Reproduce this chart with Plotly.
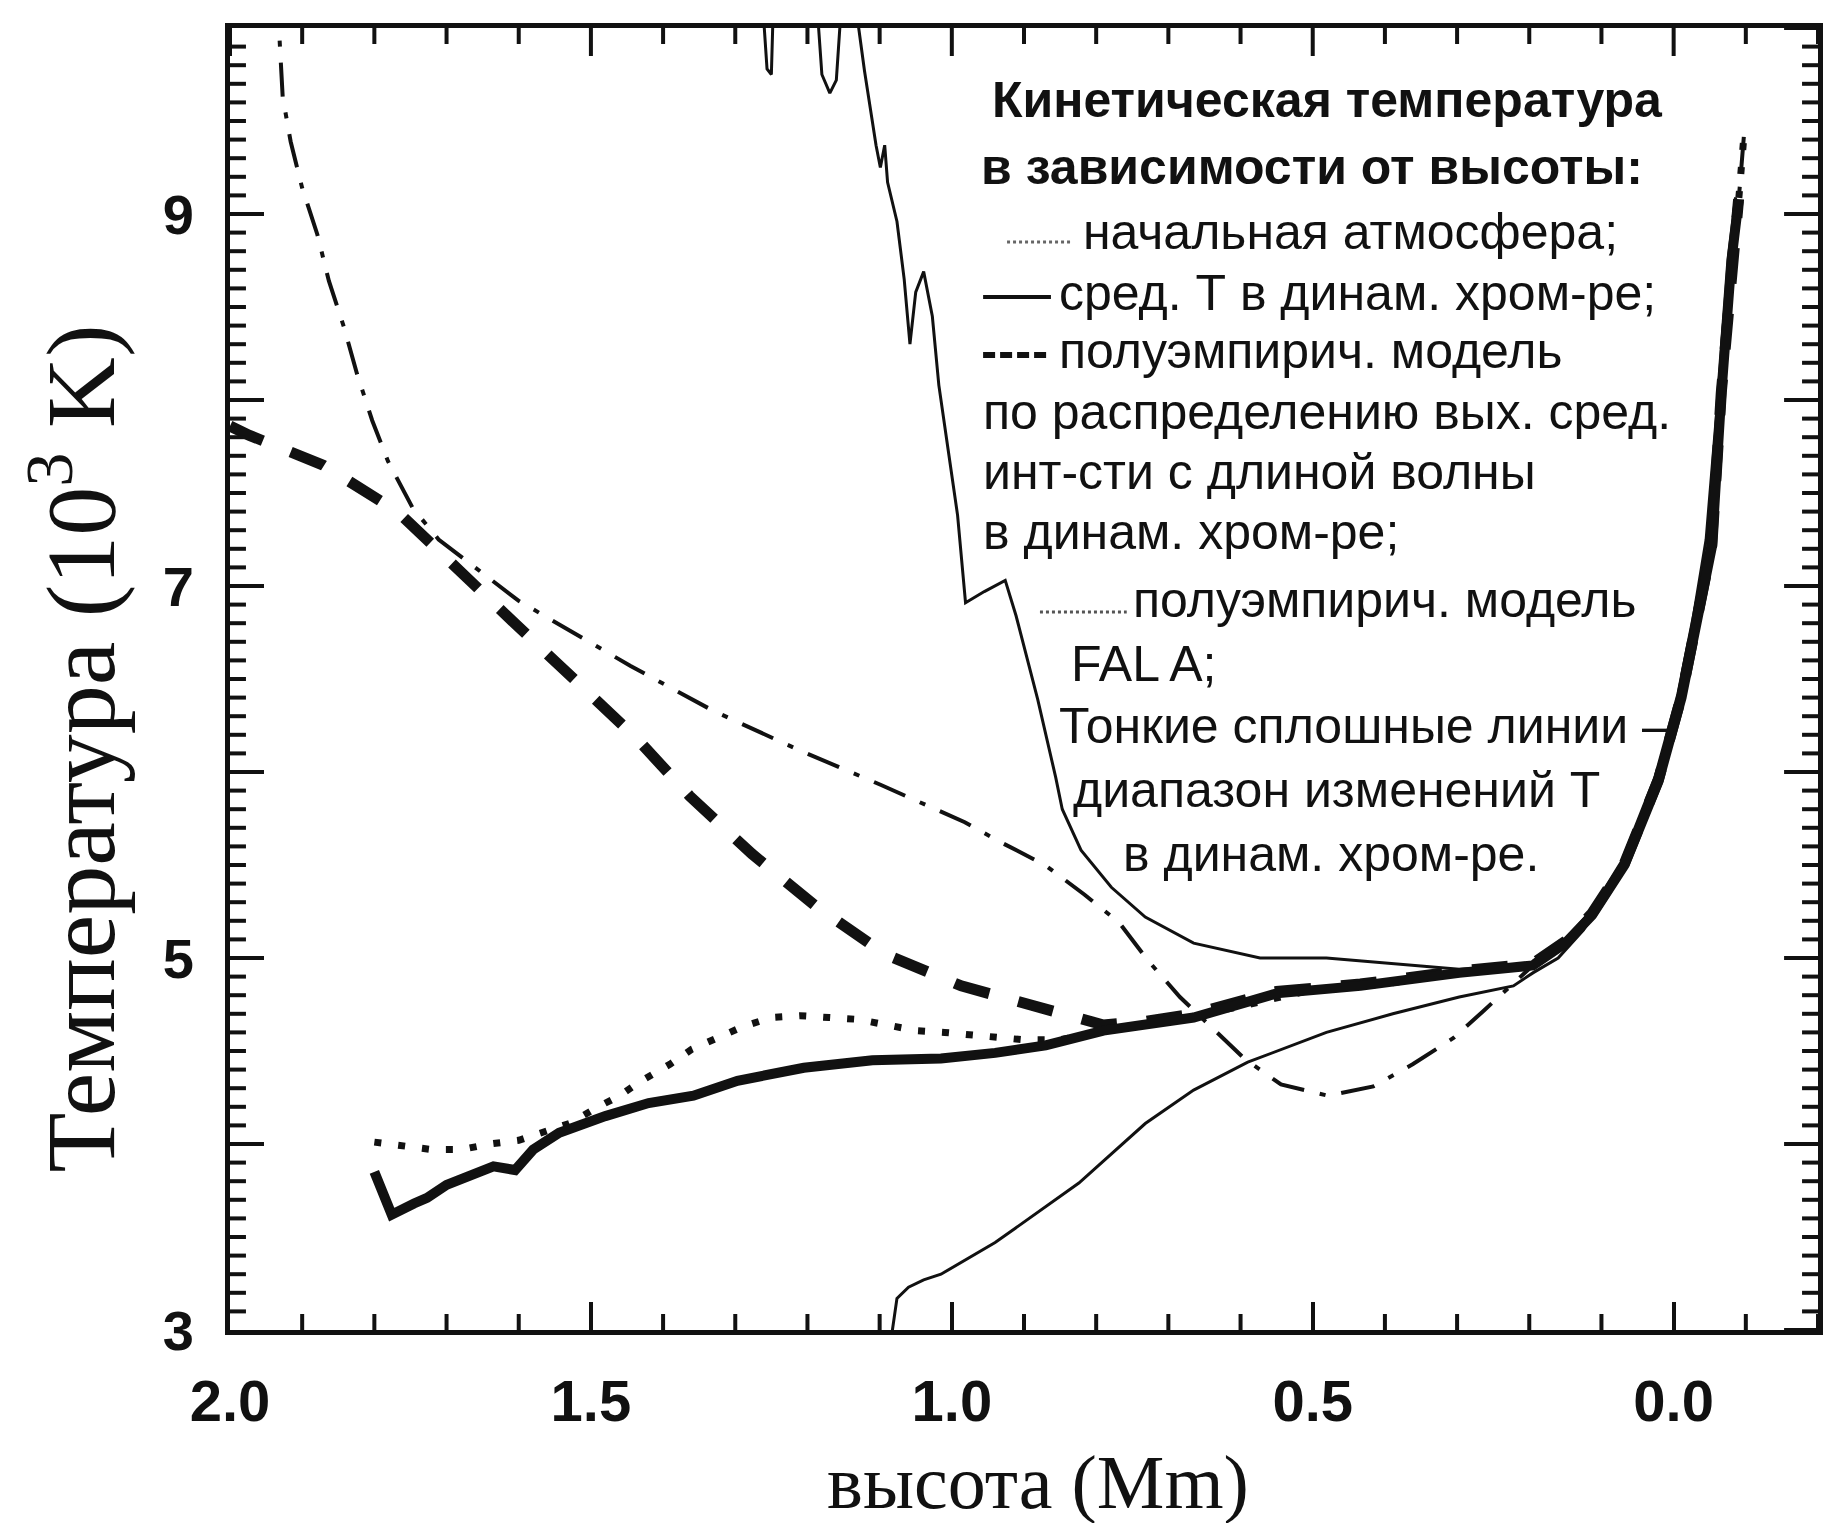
import numpy as np
import plotly.graph_objects as go

# ---------------- data ----------------
# mean T in dynamic chromosphere (thick solid)
mean_x = [1.80, 1.776, 1.745, 1.727, 1.70, 1.666, 1.635, 1.605, 1.58, 1.544, 1.48, 1.42,
          1.358, 1.297, 1.205, 1.11, 1.015, 0.94, 0.87, 0.79, 0.73, 0.665, 0.55, 0.434,
          0.297, 0.222, 0.195, 0.15, 0.113, 0.068, 0.021, -0.011, -0.034, -0.053, -0.066,
          -0.08, -0.09]
mean_y = [3.85, 3.62, 3.68, 3.71, 3.78, 3.84, 3.88, 3.86, 3.97, 4.06, 4.15, 4.22,
          4.26, 4.34, 4.41, 4.45, 4.46, 4.49, 4.53, 4.61, 4.64, 4.68, 4.81, 4.85,
          4.92, 4.95, 4.96, 5.08, 5.23, 5.50, 5.95, 6.40, 6.85, 7.21, 8.03,
          8.75, 9.07]

# initial atmosphere (dotted)
init_x = [1.80, 1.761, 1.72, 1.68, 1.64, 1.60, 1.57, 1.53, 1.49, 1.46, 1.43, 1.39, 1.36,
          1.32, 1.29, 1.25, 1.21, 1.17, 1.13, 1.09, 1.05, 1.01, 0.95, 0.90, 0.85, 0.80,
          0.70, 0.60, 0.50, 0.40, 0.30, 0.20, 0.15, 0.113, 0.068, 0.021, -0.011, -0.034,
          -0.053, -0.066, -0.08, -0.09, -0.098]
init_y = [4.01, 3.99, 3.97, 3.97, 4.00, 4.02, 4.06, 4.11, 4.20, 4.26, 4.34, 4.43, 4.51,
          4.58, 4.63, 4.68, 4.69, 4.68, 4.67, 4.64, 4.61, 4.60, 4.58, 4.56, 4.56, 4.60,
          4.66, 4.74, 4.83, 4.86, 4.92, 4.96, 5.08, 5.23, 5.50, 5.95, 6.40, 6.85,
          7.21, 8.03, 8.75, 9.07, 9.45]

# semi-empirical model from mean intensity (thick dashed)
semi_x = [2.0, 1.973, 1.871, 1.768, 1.603, 1.439, 1.363, 1.277, 1.189, 1.092, 0.987,
          0.877, 0.79, 0.73, 0.665, 0.55, 0.434, 0.297, 0.222, 0.195, 0.15, 0.113, 0.068,
          0.021, -0.011, -0.034, -0.053, -0.066, -0.08, -0.09]
semi_y = [7.86, 7.81, 7.65, 7.40, 6.79, 6.19, 5.87, 5.56, 5.28, 5.02, 4.85,
          4.73, 4.64, 4.66, 4.70, 4.82, 4.86, 4.93, 4.96, 4.97, 5.09, 5.24, 5.51,
          5.96, 6.41, 6.86, 7.22, 8.04, 8.76, 9.08]

# FAL A (dash-dot)
fal_x = [1.935, 1.927, 1.916, 1.90, 1.879, 1.863, 1.842, 1.824, 1.803, 1.781, 1.747,
         1.711, 1.60, 1.445, 1.331, 1.213, 1.098, 0.982, 0.931, 0.871, 0.816, 0.768,
         0.729, 0.684, 0.595, 0.544, 0.479, 0.416, 0.361, 0.305, 0.265, 0.221, 0.195,
         0.15, 0.113, 0.068, 0.021, -0.011, -0.034, -0.053, -0.066, -0.08, -0.09, -0.098]
fal_y = [10.2, 9.63, 9.39, 9.14, 8.89, 8.64, 8.39, 8.14, 7.89, 7.67, 7.42,
         7.25, 6.92, 6.57, 6.33, 6.12, 5.93, 5.73, 5.62, 5.50, 5.34, 5.19,
         4.99, 4.79, 4.46, 4.32, 4.26, 4.31, 4.43, 4.57, 4.71, 4.87, 4.96,
         5.08, 5.23, 5.50, 5.95, 6.40, 6.85, 7.21, 8.03, 8.75, 9.07, 9.45]

# range of T variation: upper thin line
up_x = [1.265, 1.256, 1.250, 1.246, 1.19, 1.18, 1.169, 1.16, 1.15, 1.132, 1.129, 1.121,
        1.111, 1.105, 1.099, 1.093, 1.089, 1.076, 1.066, 1.058, 1.050, 1.039, 1.027,
        1.018, 1.005, 0.992, 0.981, 0.955, 0.926, 0.911, 0.881, 0.856, 0.847, 0.821,
        0.779, 0.732, 0.665, 0.573, 0.481, 0.389, 0.297, 0.195, 0.15, 0.115, 0.072,
        0.026, -0.006, -0.029, -0.048, -0.062, -0.076, -0.086]
up_y = [10.3, 9.78, 9.75, 10.3, 10.3, 9.75, 9.65, 9.72, 10.3, 10.3, 10.0, 9.77,
        9.52, 9.37, 9.25, 9.37, 9.17, 8.96, 8.65, 8.30, 8.58, 8.69, 8.45,
        8.08, 7.73, 7.38, 6.91, 6.97, 7.03, 6.84, 6.39, 5.97, 5.80, 5.58,
        5.38, 5.22, 5.08, 5.00, 5.00, 4.97, 4.94, 4.96, 5.10, 5.25, 5.52,
        5.97, 6.42, 6.87, 7.23, 8.05, 8.77, 9.09]

# range of T variation: lower thin line
low_x = [1.086, 1.076, 1.06, 1.039, 1.015, 0.94, 0.824, 0.732, 0.665, 0.59, 0.481,
         0.389, 0.297, 0.222, 0.195, 0.16, 0.125, 0.08, 0.035, 0.0, -0.025, -0.045,
         -0.06, -0.075, -0.085]
low_y = [2.9, 3.17, 3.23, 3.27, 3.30, 3.47, 3.79, 4.11, 4.29, 4.44, 4.60,
         4.70, 4.79, 4.85, 4.92, 5.00, 5.15, 5.42, 5.85, 6.30, 6.78, 7.25,
         7.95, 8.65, 9.05]

x_range = [2.0, -0.2]
y_range = [3, 10]
x_ticks = [2.0, 1.5, 1.0, 0.5, 0.0]
x_ticklabels = ["2.0", "1.5", "1.0", "0.5", "0.0"]
y_ticks = [3, 4, 5, 6, 7, 8, 9, 10]
y_ticklabels = ["3", "", "5", "", "7", "", "9", ""]
x_minor_step = 0.1
y_minor_step = 0.1
x_title = "высота (Mm)"
y_title = "Температура (10<sup>3</sup> K)"
legend_lines = [
    ("<b>Кинетическая температура</b>", 992, 99.5),
    ("<b>в зависимости от высоты:</b>", 981, 167),
    ("начальная атмосфера;", 1083, 232),
    ("сред. Т в динам. хром-ре;", 1059, 293),
    ("полуэмпирич. модель", 1059, 351),
    ("по распределению вых. сред.", 983, 412),
    ("инт-сти с длиной волны", 983, 472),
    ("в динам. хром-ре;", 983, 532),
    ("полуэмпирич. модель", 1133, 600),
    ("FAL A;", 1071, 664),
    ("Тонкие сплошные линии –", 1059, 726),
    ("диапазон изменений Т", 1073, 790),
    ("в динам. хром-ре.", 1123, 854),
]

# ---------------- figure ----------------
W, H = 1835, 1523
ML, MR, MT, MB = 230, 13, 28, 193
PW, PH = W - ML - MR, H - MT - MB


def px(xp):
    return (xp - ML) / PW


def py(yp):
    return (H - MB - yp) / PH


INK = "#111111"
fig = go.Figure()

fig.add_trace(go.Scatter(x=up_x, y=up_y, mode="lines",
                         line=dict(color=INK, width=3), showlegend=False))
fig.add_trace(go.Scatter(x=low_x, y=low_y, mode="lines",
                         line=dict(color=INK, width=3), showlegend=False))
fig.add_trace(go.Scatter(x=fal_x, y=fal_y, mode="lines",
                         line=dict(color=INK, width=4, dash="34px,16px,6px,16px"),
                         showlegend=False))
fig.add_trace(go.Scatter(x=init_x, y=init_y, mode="lines",
                         line=dict(color=INK, width=7, dash="7px,17px"), showlegend=False))
fig.add_trace(go.Scatter(x=semi_x, y=semi_y, mode="lines",
                         line=dict(color=INK, width=11, dash="36px,30px"), showlegend=False))
fig.add_trace(go.Scatter(x=mean_x, y=mean_y, mode="lines",
                         line=dict(color=INK, width=10), showlegend=False))

xfont = dict(family="Liberation Sans", size=58, color=INK, weight="bold")
yfont = dict(family="Liberation Sans", size=56, color=INK, weight="bold")

fig.update_xaxes(range=x_range, showgrid=False, zeroline=False, showline=True,
                 linecolor=INK, linewidth=5, mirror=True, ticks="inside",
                 tickmode="array", tickvals=x_ticks, ticktext=x_ticklabels,
                 ticklen=28, tickwidth=4, tickcolor=INK, tickfont=xfont,
                 ticklabelstandoff=16)
fig.update_yaxes(range=y_range, showgrid=False, zeroline=False, showline=True,
                 linecolor=INK, linewidth=5, mirror=True, ticks="inside",
                 tickmode="array", tickvals=y_ticks, ticktext=y_ticklabels,
                 ticklen=34, tickwidth=4, tickcolor=INK, tickfont=yfont,
                 ticklabelstandoff=20)

# ----- tick marks on the mirrored sides and the dense minor ticks -----
shapes = []
tick_line = dict(color=INK, width=4)
x_minor = [float(v) for v in np.round(np.arange(-0.2, 2.0001, x_minor_step), 3)
           if not np.any(np.isclose(v, x_ticks))]
y_minor = [float(v) for v in np.round(np.arange(3, 10.0001, y_minor_step), 3)
           if not np.any(np.isclose(v, y_ticks))]
XMIN_LEN, YMIN_LEN = 16, 16
for v in x_minor:  # bottom + top minor
    shapes.append(dict(type="line", xref="x", yref="paper", x0=v, x1=v,
                       y0=0, y1=XMIN_LEN / PH, line=tick_line, layer="above"))
    shapes.append(dict(type="line", xref="x", yref="paper", x0=v, x1=v,
                       y0=1, y1=1 - XMIN_LEN / PH, line=tick_line, layer="above"))
for v in x_ticks:  # top major
    shapes.append(dict(type="line", xref="x", yref="paper", x0=v, x1=v,
                       y0=1, y1=1 - 28 / PH, line=tick_line, layer="above"))
for v in y_minor:  # left + right minor
    shapes.append(dict(type="line", xref="paper", yref="y", y0=v, y1=v,
                       x0=0, x1=YMIN_LEN / PW, line=tick_line, layer="above"))
    shapes.append(dict(type="line", xref="paper", yref="y", y0=v, y1=v,
                       x0=1, x1=1 - YMIN_LEN / PW, line=tick_line, layer="above"))
for v in y_ticks:  # right major
    shapes.append(dict(type="line", xref="paper", yref="y", y0=v, y1=v,
                       x0=1, x1=1 - 34 / PW, line=tick_line, layer="above"))

# legend leader lines
shapes += [
    dict(type="line", xref="paper", yref="paper", x0=px(1009), x1=px(1075),
         y0=py(242), y1=py(242), line=dict(color="#666666", width=3, dash="dot")),
    dict(type="line", xref="paper", yref="paper", x0=px(985), x1=px(1053),
         y0=py(297), y1=py(297), line=dict(color=INK, width=4)),
    dict(type="line", xref="paper", yref="paper", x0=px(985), x1=px(1053),
         y0=py(355), y1=py(355), line=dict(color=INK, width=6, dash="12px,5px")),
    dict(type="line", xref="paper", yref="paper", x0=px(1042), x1=px(1129),
         y0=py(612), y1=py(612), line=dict(color="#555555", width=3, dash="dot")),
]

annotations = [
    dict(text=x_title, xref="paper", yref="paper", x=px(1040), y=py(1482),
         xanchor="center", yanchor="middle", showarrow=False,
         font=dict(family="Liberation Serif", size=76, color=INK)),
    dict(text=y_title, xref="paper", yref="paper", x=px(72), y=py(748),
         xanchor="center", yanchor="middle", showarrow=False, textangle=-90,
         font=dict(family="Liberation Serif", size=98, color=INK)),
]
for txt, lx, ly in legend_lines:
    annotations.append(dict(text=txt, xref="paper", yref="paper", x=px(lx), y=py(ly),
                            xanchor="left", yanchor="middle", showarrow=False,
                            font=dict(family="Liberation Sans", size=50, color=INK)))

fig.update_layout(
    width=W, height=H, autosize=False,
    margin=dict(l=ML, r=MR, t=MT, b=MB, pad=0),
    paper_bgcolor="white", plot_bgcolor="white",
    annotations=annotations, shapes=shapes, showlegend=False,
)

fig.write_html("out.html")
